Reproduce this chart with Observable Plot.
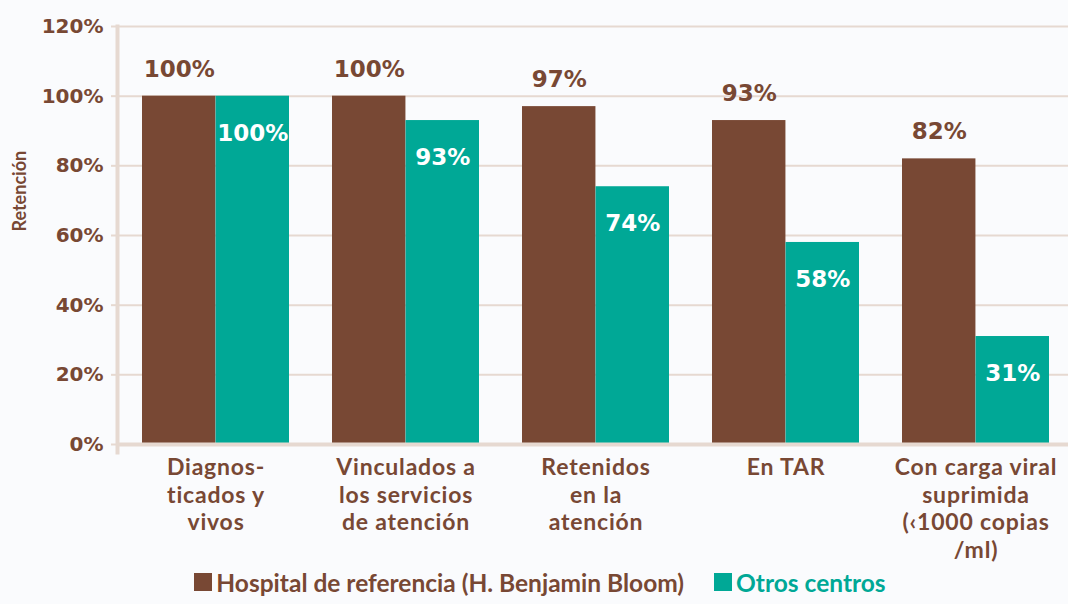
<!DOCTYPE html>
<html><head><meta charset="utf-8">
<script src="https://cdn.jsdelivr.net/npm/d3@7"></script>
<script src="https://cdn.jsdelivr.net/npm/@observablehq/plot@0.6"></script>
<style>
body{margin:0;background:#fafbfd;width:1068px;height:604px;overflow:hidden;}
#legend{display:flex;justify-content:center;align-items:center;gap:30px;font-family:Lato,sans-serif;font-weight:bold;font-size:24.5px;height:44px;margin-top:0;padding-left:12px;}
.item{display:flex;align-items:center;}
.sw{width:18px;height:18px;margin-right:4px;}
#chart svg g[aria-label="x-axis tick label"] text{letter-spacing:0.8px;}
</style></head><body><div id="chart"></div><div id="legend"></div>
<script>
const categories = ["Diagnosticados y vivos","Vinculados a los servicios de atención","Retenidos en la atención","En TAR","Con carga viral suprimida (<1000 copias/ml)"];
const categoryLabels = ["Diagnos-\nticados y\nvivos","Vinculados a\nlos servicios\nde atención","Retenidos\nen la\natención","En TAR","Con carga viral\nsuprimida\n(‹1000 copias\n/ml)"];
const seriesNames = ["Hospital de referencia (H. Benjamin Bloom)","Otros centros"];
const hospital = [100,100,97,93,82];
const otros = [100,93,74,58,31];
const yTicks = [0,20,40,60,80,100,120];

const brown = "#784834", teal = "#00a896", grid = "#e6d9d1";
const rows = categories.map((c,i)=>({cat:c, hosp:hospital[i], otros:otros[i]}));
const labelOf = new Map(categories.map((c,i)=>[c,categoryLabels[i]]));

const W = 1068, ML = 117, MR = 0, PI = 0.226, PO = 0.13;
const XR = [ML, 1074];
const step = (XR[1]-XR[0])/(categories.length - PI + 2*PO);
const half = step*(1-PI)/2;
const numFont = "DejaVu Sans";

const chart = Plot.plot({
  width: W, height: 560,
  marginLeft: ML, marginRight: MR, marginTop: 26, marginBottom: 116,
  style: {background: "transparent", color: brown, overflow: "visible"},
  x: {domain: categories, range: XR, paddingInner: PI, paddingOuter: PO, label: null},
  y: {domain: [0,120], label: null},
  marks: [
    Plot.ruleY(yTicks.filter(t=>t>0), {stroke: grid, strokeWidth: 2}),
    Plot.barY(rows, {x: "cat", y: "hosp", fill: brown, insetRight: half}),
    Plot.barY(rows, {x: "cat", y: "otros", fill: teal, insetLeft: half}),
    Plot.ruleY([0], {stroke: grid, strokeWidth: 4}),
    Plot.frame({anchor: "left", stroke: grid, strokeWidth: 4, insetBottom: -8}),
    Plot.text(rows, {x: "cat", y: "hosp", text: d=>d.hosp+"%", dx: -half/2, dy: -27, fill: brown, fontSize: 23, fontWeight: "bold", fontFamily: numFont}),
    Plot.text(rows, {x: "cat", y: "otros", text: d=>d.otros+"%", dx: half/2, dy: 37, fill: "white", fontSize: 23, fontWeight: "bold", fontFamily: numFont}),
    Plot.axisY({ticks: yTicks, tickFormat: d=>d+"%", tickSize: 6, tickPadding: 8, stroke: grid, strokeWidth: 2, fill: brown, fontSize: 20, fontWeight: "bold", fontFamily: numFont, label: null}),
    Plot.axisX({tickSize: 0, tickPadding: 11, tickFormat: c=>labelOf.get(c), fill: brown, fontSize: 23, fontWeight: "bold", fontFamily: "Lato", lineHeight: 1.2, label: null}),
    Plot.text(["Retención"], {text: d=>d, frameAnchor: "left", rotate: -90, dx: -97, dy: -4, fill: brown, fontSize: 18, fontWeight: "bold", fontFamily: "Lato"})
  ]
});
document.getElementById("chart").append(chart);

const legend = document.getElementById("legend");
[[seriesNames[0], brown],[seriesNames[1], teal]].forEach(([n,c])=>{
  const it = document.createElement("div"); it.className="item";
  const sw = document.createElement("div"); sw.className="sw"; sw.style.background=c;
  const tx = document.createElement("span"); tx.textContent=n; tx.style.color=c;
  it.append(sw,tx); legend.append(it);
});
</script></body></html>
